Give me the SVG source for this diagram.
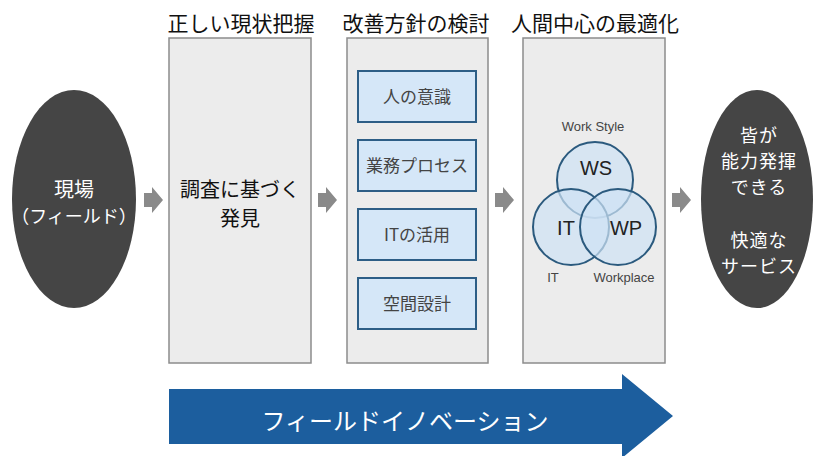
<svg xmlns="http://www.w3.org/2000/svg" width="816" height="456" viewBox="0 0 816 456">
<style>
text{font-family:"Noto Sans CJK JP","Liberation Sans",sans-serif;}
.title{font-size:21px;fill:#111;text-anchor:middle;}
.panel{fill:#ececec;stroke:#8c8c8c;stroke-width:1.5;}
.ell{fill:#454545;}
.ellt{font-size:18px;fill:#fff;text-anchor:middle;letter-spacing:1px;}
.box{fill:#d5e7f8;stroke:#2d5e86;stroke-width:2;}
.boxt{font-size:17px;fill:#444;text-anchor:middle;}
.garrow{fill:#8a8a8a;}
.circ{fill:#cfe3f5;fill-opacity:0.7;stroke:#2b5a7e;stroke-width:2;}
.vl{font-family:"Liberation Sans",sans-serif;font-size:20px;fill:#222;text-anchor:middle;}
.vs{font-family:"Liberation Sans",sans-serif;font-size:13px;fill:#444;text-anchor:middle;}
</style>
<rect width="816" height="456" fill="#fff"/>
<g id="title1"><text class="title" x="241" y="31">正しい現状把握</text></g>
<g id="title2"><text class="title" x="416" y="31">改善方針の検討</text></g>
<g id="title3"><text class="title" x="595" y="31">人間中心の最適化</text></g>
<g id="field">
<ellipse class="ell" cx="74" cy="199" rx="62" ry="109"/>
<text x="74" y="197" style="font-size:20px;fill:#fff;text-anchor:middle">現場</text>
<text x="74" y="223" style="font-size:18px;fill:#fff;text-anchor:middle">（フィールド）</text>
</g>
<g id="panel1">
<rect class="panel" x="169" y="38" width="142" height="325"/>
<text x="240" y="197" style="font-size:20px;fill:#111;text-anchor:middle">調査に基づく</text>
<text x="240" y="226" style="font-size:20px;fill:#111;text-anchor:middle">発見</text>
</g>
<g id="panel2">
<rect class="panel" x="347" y="38" width="141" height="325"/>
<g id="b1"><rect class="box" x="358" y="71" width="118" height="51"/><text class="boxt" x="417" y="103">人の意識</text></g>
<g id="b2"><rect class="box" x="358" y="140" width="118" height="51"/><text class="boxt" x="417" y="172">業務プロセス</text></g>
<g id="b3"><rect class="box" x="358" y="209" width="118" height="51"/><text class="boxt" x="417" y="241">ITの活用</text></g>
<g id="b4"><rect class="box" x="358" y="278" width="118" height="51"/><text class="boxt" x="417" y="310">空間設計</text></g>
</g>
<g id="panel3">
<rect class="panel" x="523" y="38" width="142" height="325"/>
<circle class="circ" cx="595" cy="180" r="38"/>
<circle class="circ" cx="571" cy="227" r="38"/>
<circle class="circ" cx="618" cy="227" r="38"/>
<text class="vs" x="593" y="131">Work Style</text>
<text class="vl" x="596" y="175">WS</text>
<text class="vl" x="566" y="235">IT</text>
<text class="vl" x="626" y="235">WP</text>
<text class="vs" x="553" y="282">IT</text>
<text class="vs" x="624" y="282">Workplace</text>
</g>
<g id="result">
<ellipse class="ell" cx="757" cy="199" rx="56" ry="109"/>
<text class="ellt" x="759" y="142">皆が</text>
<text class="ellt" x="759" y="168">能力発揮</text>
<text class="ellt" x="759" y="194">できる</text>
<text class="ellt" x="759" y="247">快適な</text>
<text class="ellt" x="759" y="273">サービス</text>
</g>
<g id="connectors">
<path class="garrow" d="M144,193 H152 V187 L163,200 L152,213 V207 H144 Z"/>
<path class="garrow" d="M318,193 H326 V187 L337,200 L326,213 V207 H318 Z"/>
<path class="garrow" d="M495,193 H503 V187 L514,200 L503,213 V207 H495 Z"/>
<path class="garrow" d="M672,193 H680 V187 L691,200 L680,213 V207 H672 Z"/>
</g>
<g id="innovation">
<path d="M169,389 H622 V374 L673,416 L622,458 V444 H169 Z" fill="#1c5e9e"/>
<text x="405" y="430" style="font-size:24px;fill:#fff;text-anchor:middle">フィールドイノベーション</text>
</g>
</svg>
